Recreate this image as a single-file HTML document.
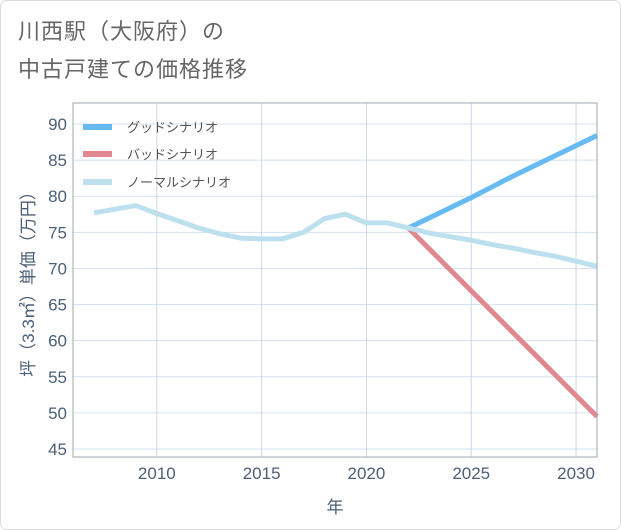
<!DOCTYPE html>
<html><head><meta charset="utf-8"><style>
body{margin:0;background:#fff;}
#wrap{position:relative;width:621px;height:530px;overflow:hidden;}
.t{position:absolute;left:18px;font:22px "Liberation Sans","Noto Sans CJK JP",sans-serif;color:#666;letter-spacing:1px;}
svg text{font-family:"Liberation Sans","Noto Sans CJK JP",sans-serif;}
</style></head><body>
<div id="wrap">
<svg width="621" height="530" style="position:absolute;left:0;top:0">
<rect x="0.5" y="0.5" width="620" height="529" rx="6" fill="#fff" stroke="#ddd"/>
<g id="grid"></g><g id="lines"></g><g id="axes"></g><g id="legend"></g>
</svg>
<div class="t" style="top:14px">川西駅（大阪府）の</div>
<div class="t" style="top:52px">中古戸建ての価格推移</div>
</div>
<script>
const normalYears=[2007,2008,2009,2010,2011,2012,2013,2014,2015,2016,2017,2018,2019,2020,2021,2022,2023,2024,2025,2026,2027,2028,2029,2030,2031];
const normalValues=[77.7,78.2,78.7,77.6,76.6,75.6,74.8,74.2,74.1,74.1,75.0,76.9,77.5,76.3,76.3,75.6,74.9,74.4,73.9,73.3,72.8,72.2,71.7,71.0,70.3];
const forecastYears=[2022,2023,2024,2025,2026,2027,2028,2029,2030,2031];
const goodValues=[75.6,77.0,78.4,79.8,81.3,82.8,84.2,85.6,87.0,88.4];
const badValues=[75.6,72.7,69.8,66.9,64.0,61.1,58.2,55.3,52.4,49.5];
const xTicks=[2010,2015,2020,2025,2030];
const yTicks=[45,50,55,60,65,70,75,80,85,90];
const L=73,R=597,T=103,B=457,x0=2006,x1=2031,y0=43.9,y1=92.9;
const X=v=>L+(v-x0)/(x1-x0)*(R-L);
const Y=v=>B-(v-y0)/(y1-y0)*(B-T);
const NS='http://www.w3.org/2000/svg';
function mk(p,tag,at){const e=document.createElementNS(NS,tag);for(const k in at)e.setAttribute(k,at[k]);p.appendChild(e);return e;}
const grid=document.getElementById('grid'),lines=document.getElementById('lines'),axes=document.getElementById('axes'),leg=document.getElementById('legend');
yTicks.forEach(v=>{const l=mk(grid,'line',{x1:L,x2:R,y1:Y(v),y2:Y(v),stroke:'#d5e1ec','stroke-width':1});

const t=mk(axes,'text',{x:L-6,y:Y(v)+6,'text-anchor':'end','font-size':17,fill:'#4a5f78'});t.textContent=v;
});
xTicks.forEach(v=>{const l=mk(grid,'line',{x1:X(v),x2:X(v),y1:T,y2:B,stroke:'#c9d8e6','stroke-width':1});

const t=mk(axes,'text',{x:X(v),y:B+22,'text-anchor':'middle','font-size':17,fill:'#4a5f78'});t.textContent=v;
});
const fr=mk(axes,'rect',{x:L,y:T,width:R-L,height:B-T,fill:'none',stroke:'#9aa8b6','stroke-width':1});

function line(xs,ys,c,n){const p=mk(lines,'polyline',{points:xs.map((x,i)=>X(x)+','+Y(ys[i])).join(' '),fill:'none',stroke:c,'stroke-width':5,'stroke-linejoin':'round'});
}
line(forecastYears,badValues,'#e0888f','bad-scenario-line');
line(forecastYears,goodValues,'#66bbf2','good-scenario-line');
line(normalYears,normalValues,'#bde0ef','normal-scenario-line');
const xt=mk(axes,'text',{x:(L+R)/2,y:513,'text-anchor':'middle','font-size':17,fill:'#4a5f78'});xt.textContent='年';

const yt=mk(axes,'text',{x:0,y:0,'text-anchor':'middle','font-size':17,fill:'#4a5f78',transform:'translate(34,'+((T+B)/2)+') rotate(-90)'});yt.textContent='坪（3.3㎡）単価（万円）';

[['グッドシナリオ','#66bbf2',127],['バッドシナリオ','#e0888f',154],['ノーマルシナリオ','#bde0ef',182]].forEach(([s,c,y])=>{
const g=mk(leg,'g',{});
mk(g,'rect',{x:83,y:y-3,width:29,height:6,fill:c});
const t=mk(g,'text',{x:127,y:y+5,'font-size':13,fill:'#555'});t.textContent=s;});
</script>
</body></html>
